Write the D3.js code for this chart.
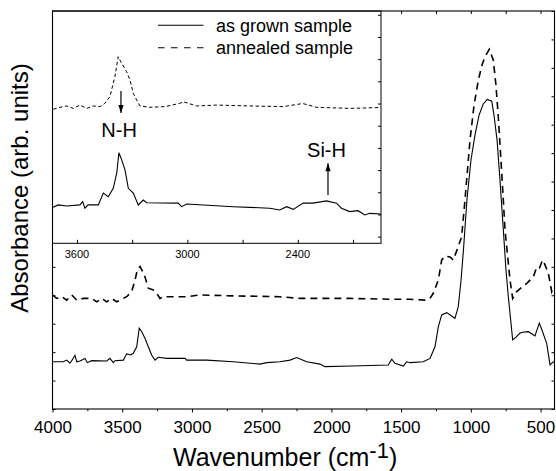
<!DOCTYPE html>
<html><head><meta charset="utf-8">
<script src="https://cdn.jsdelivr.net/npm/d3@7"></script>
<style>
html,body{margin:0;padding:0;background:#fff;}
svg text{font-family:"Liberation Sans",Arial,Helvetica,sans-serif;fill:#000;}
</style></head>
<body><svg id="c" width="556" height="471"></svg>
<script>
// ---- main spectrum data (wavenumber cm^-1, absorbance arb. units) ----
const grownWn = [4000,3923,3898,3875,3862,3839,3826,3803,3767,3750,3719,3611,3588,3564,3552,3492,3468,3439,3421,3396,3378,3360,3337,3313,3289,3265,3241,3181,3050,3038,2894,2703,2512,2464,2369,2297,2249,2177,2082,2046,1854,1592,1567,1544,1484,1460,1436,1341,1293,1257,1233,1209,1173,1114,1090,1070,1053,1028,999,970,941,911,882,850,834,812,791,767,748,731,700,676,647,619,588,561,540,509,490,456,432,409,400];
const grownAbs = [1.66,1.66,1.72,1.61,1.70,1.89,1.66,1.69,1.78,1.63,1.70,1.69,1.78,1.63,1.70,1.72,1.94,1.90,1.96,2.19,2.84,2.72,2.49,2.19,1.90,1.72,1.82,1.78,1.78,1.72,1.72,1.66,1.58,1.63,1.66,1.72,1.81,1.66,1.58,1.49,1.51,1.55,1.75,1.61,1.51,1.66,1.63,1.66,1.78,2.19,2.90,3.31,3.39,3.19,3.60,4.54,5.59,7.35,8.76,9.64,10.34,10.73,10.89,10.83,10.34,9.46,8.06,6.30,4.89,3.94,2.43,2.53,2.67,2.71,2.72,2.64,2.57,3.02,2.78,2.31,1.55,1.66,1.64];
const annealWn = [4000,3970,3934,3898,3862,3826,3779,3719,3683,3647,3611,3575,3540,3492,3468,3432,3408,3392,3372,3353,3337,3313,3277,3253,3229,3205,3134,3038,2942,2703,2369,2225,1867,1558,1436,1329,1293,1269,1233,1209,1185,1149,1126,1090,1066,1042,1006,977,946,920,898,868,839,820,803,784,767,755,737,719,700,671,640,599,552,528,508,485,468,444,420,407,400];
const annealAbs = [4.01,3.89,3.95,3.83,4.01,3.83,3.89,3.89,3.77,3.89,3.77,3.89,3.77,3.89,3.95,4.13,4.54,4.89,5.01,4.83,4.65,4.25,4.19,4.07,3.89,3.95,3.95,3.95,4.01,3.98,3.95,3.89,3.89,3.86,3.86,3.83,3.89,4.07,4.54,5.24,5.38,5.35,5.24,5.71,6.06,7.35,9.46,10.69,11.57,12.10,12.39,12.65,12.28,11.40,10.28,8.76,7.35,6.30,5.42,4.54,3.89,4.13,4.26,4.42,4.65,4.98,4.96,5.24,5.07,4.77,4.13,4.29,4.25];

// ---- inset data (3730-1950 cm^-1, magnified) ----
const insetGrownWn = [3730,3702,3656,3584,3569,3557,3539,3484,3457,3430,3403,3384,3372,3357,3339,3321,3294,3267,3240,3221,3050,3031,3004,2751,2552,2498,2461,2425,2371,2317,2244,2190,2163,2118,2073,2036,2009,1948];
const insetGrownAbs = [1.32,1.43,1.38,1.43,1.58,1.28,1.43,1.43,1.96,1.80,2.18,2.86,3.78,3.46,3.01,2.18,1.96,1.43,1.65,1.53,1.51,1.35,1.47,1.35,1.28,1.20,1.35,1.23,1.51,1.51,1.61,1.51,1.28,1.13,1.17,0.98,1.05,1.02];
const insetAnnealWn = [3729,3692,3656,3620,3584,3547,3511,3475,3448,3421,3394,3376,3357,3330,3312,3294,3276,3258,3204,3122,3041,3022,2950,2841,2661,2480,2373,2299,2118,2036,1948];
const insetAnnealAbs = [5.74,5.83,5.89,5.78,5.93,5.78,5.89,5.86,6.01,6.31,7.21,8.11,7.81,7.43,7.06,6.46,6.16,5.89,5.83,5.86,6.01,6.08,5.89,5.93,5.89,5.86,6.00,5.83,5.78,5.80,5.82];

// ---- axes ----
const xDomain = [4000, 400];
const xMajorTicks = [4000,3500,3000,2500,2000,1500,1000,500];
const xMinorTicks = [3750,3250,2750,2250,1750,1250,750];
const yDomain = [0, 14];
const insetXDomain = [3733, 1948];
const insetXTicks = [3600,3000,2400];
const insetXMinor = [3300,2700,2100];
const insetYDomain = [-0.3, 10.17];
const seriesNames = ["as grown sample","annealed sample"];
const xTitle = "Wavenumber (cm";
const yTitle = "Absorbance (arb. units)";

const svg = d3.select("#c");
const L = 52.5, R = 554.5, T = 11, B = 409;
const x = d3.scaleLinear().domain(xDomain).range([L, R]);
const y = d3.scaleLinear().domain(yDomain).range([B, T]);

const line = (xs, ys, wn, ab) => d3.line().x((d,i)=>xs(wn[i])).y((d,i)=>ys(ab[i]))(wn);

// main curves
svg.append("path").attr("d", line(x,y,grownWn,grownAbs))
  .attr("fill","none").attr("stroke","#000").attr("stroke-width",1.1);
svg.append("path").attr("d", line(x,y,annealWn,annealAbs))
  .attr("fill","none").attr("stroke","#000").attr("stroke-width",1.6).attr("stroke-dasharray","7,5");

// bottom axis
const gB = svg.append("g").attr("transform",`translate(0,${B})`);
gB.call(d3.axisBottom(x).tickValues(xMajorTicks).tickSize(3.5).tickPadding(8).tickFormat(d3.format("d")));
gB.call(g=>g.selectAll("text").attr("font-size",17).attr("font-family",null));
gB.call(g=>g.select(".domain").remove());
const gBm = svg.append("g").attr("transform",`translate(0,${B})`);
gBm.call(d3.axisBottom(x).tickValues(xMinorTicks).tickSize(2.2).tickFormat(""));
gBm.select(".domain").remove();
// top axis (inward)
const gT = svg.append("g").attr("transform",`translate(0,${T})`);
gT.call(d3.axisBottom(x).tickValues(xMajorTicks.concat(xMinorTicks)).tickSize(3).tickFormat(""));
gT.select(".domain").remove();
// left / right (inward)
const yt = d3.range(0,15);
const gL = svg.append("g").attr("transform",`translate(${L},0)`);
gL.call(d3.axisRight(y).tickValues(yt).tickSize(3).tickFormat(""));
gL.select(".domain").remove();
const gR = svg.append("g").attr("transform",`translate(${R},0)`);
gR.call(d3.axisLeft(y).tickValues(yt).tickSize(3).tickFormat(""));
gR.select(".domain").remove();
svg.selectAll(".tick line").attr("stroke","#000");

// inset
const iL = 52.5, iR = 381, iT = 11, iB = 243.3;
const xi = d3.scaleLinear().domain(insetXDomain).range([iL, iR]);
const yi = d3.scaleLinear().domain(insetYDomain).range([iB, iT]);
svg.append("rect").attr("x",iL).attr("y",iT).attr("width",iR-iL).attr("height",iB-iT)
  .attr("fill","#fff").attr("stroke","#000").attr("stroke-width",1);
svg.append("path").attr("d", line(xi,yi,insetGrownWn,insetGrownAbs))
  .attr("fill","none").attr("stroke","#000").attr("stroke-width",1.1);
svg.append("path").attr("d", line(xi,yi,insetAnnealWn,insetAnnealAbs))
  .attr("fill","none").attr("stroke","#000").attr("stroke-width",1).attr("stroke-dasharray","3.5,2.5");
const giB = svg.append("g").attr("transform",`translate(0,${iB})`);
giB.call(d3.axisTop(xi).tickValues(insetXTicks.concat(insetXMinor)).tickSize(3.5).tickFormat(""));
giB.select(".domain").remove();
giB.selectAll(".tick line").attr("stroke","#000");
insetXTicks.forEach(v=>{
  svg.append("text").attr("x",xi(v)).attr("y",iB+15).attr("text-anchor","middle")
    .attr("font-size",11).text(v);
});
const giR = svg.append("g").attr("transform",`translate(${iR},0)`);
giR.call(d3.axisLeft(yi).tickValues(d3.range(0,11)).tickSize(3).tickFormat(""));
giR.select(".domain").remove();
giR.selectAll(".tick line").attr("stroke","#000");

// annotations
function arrow(x0,y0,x1,y1){
  svg.append("line").attr("x1",x0).attr("y1",y0).attr("x2",x1).attr("y2",y1).attr("stroke","#000").attr("stroke-width",1.2);
  const dir = Math.sign(y1-y0);
  svg.append("path").attr("d",`M${x1},${y1} L${x1-2.6},${y1-dir*8} L${x1+2.6},${y1-dir*8} Z`).attr("fill","#000");
}
arrow(xi(3361), yi(6.56), xi(3361), yi(5.57));
svg.append("text").attr("x",xi(3371)).attr("y",yi(4.50)).attr("text-anchor","middle").attr("font-size",20).text("N-H");
arrow(xi(2236), yi(1.88), xi(2236), yi(3.31));
svg.append("text").attr("x",xi(2244)).attr("y",yi(3.60)).attr("text-anchor","middle").attr("font-size",20).text("Si-H");

// legend
const lg = svg.append("g");
lg.append("line").attr("x1",158).attr("x2",203.5).attr("y1",25.3).attr("y2",25.3).attr("stroke","#000").attr("stroke-width",1.1);
lg.append("line").attr("x1",158).attr("x2",203.5).attr("y1",47.7).attr("y2",47.7).attr("stroke","#000").attr("stroke-width",1.1).attr("stroke-dasharray","6.5,6.5");
lg.append("text").attr("x",216).attr("y",32).attr("font-size",18).text(seriesNames[0]);
lg.append("text").attr("x",216).attr("y",54).attr("font-size",18).text(seriesNames[1]);

// frame
svg.append("rect").attr("x",L).attr("y",T).attr("width",R-L).attr("height",B-T)
  .attr("fill","none").attr("stroke","#000").attr("stroke-width",1.1);

// titles
const xt = svg.append("text").attr("x",173).attr("y",466).attr("font-size",25);
xt.append("tspan").text(xTitle);
xt.append("tspan").attr("dy",-8).attr("font-size",22).text("-1");
xt.append("tspan").attr("dy",8).text(")");
svg.append("text").attr("transform","translate(28,188) rotate(-90)").attr("text-anchor","middle")
  .attr("font-size",24).text(yTitle);
</script></body></html>
